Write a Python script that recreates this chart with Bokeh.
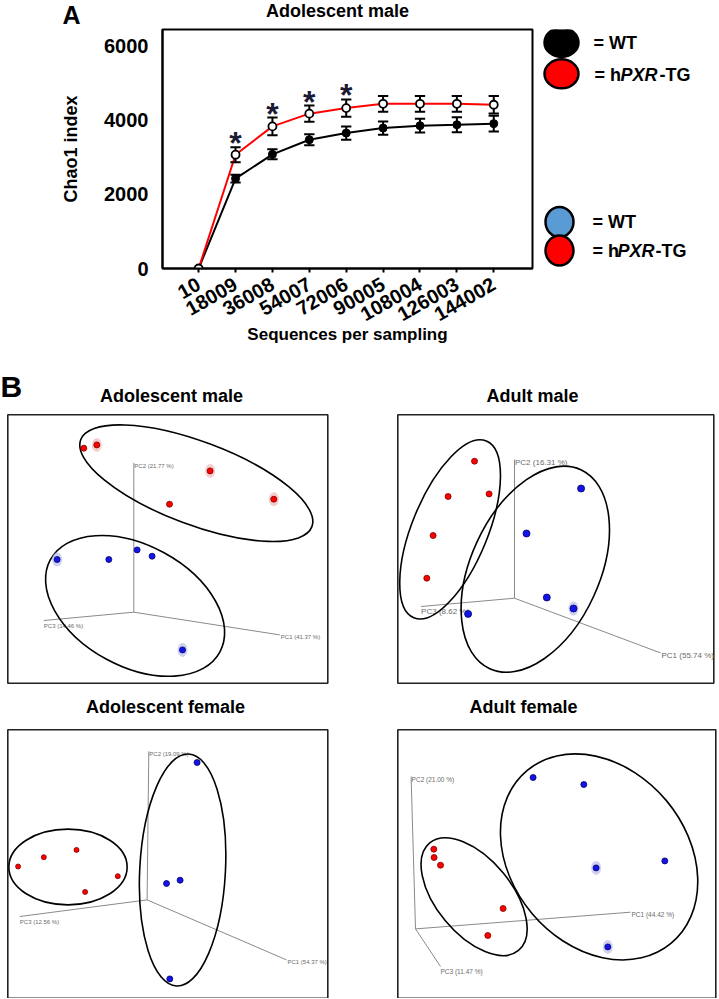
from bokeh.plotting import figure
from bokeh.layouts import column, row
from bokeh.models import Range1d, FixedTicker
from bokeh.embed import file_html
from bokeh.resources import INLINE
from bokeh.core.properties import value

FONT = "Liberation Sans"

# ---------------- Panel A data (Chao1 rarefaction) ----------------
seq_labels = ["10", "18009", "36008", "54007", "72006", "90005", "108004", "126003", "144002"]
wt_mean = [0, 2430, 3085, 3480, 3660, 3795, 3860, 3885, 3915]
wt_err = [0, 105, 135, 150, 180, 180, 185, 200, 210]
tg_mean = [0, 3075, 3840, 4185, 4335, 4450, 4450, 4450, 4425]
tg_err = [0, 205, 240, 220, 235, 215, 215, 215, 235]
tg_sig = [False, True, True, True, True, False, False, False, False]
y_ticks = [0, 2000, 4000, 6000]
panel_a_title = "Adolescent male"
legend_wt = "= WT"

# ---------------- Panel B data (PCoA, projected coordinates in box units) ----------------
p1_title = "Adolescent male"
p1_red_x = [76, 89, 202.3, 161.7, 266]
p1_red_y = [235, 238.3, 212.3, 179, 184]
p1_blue_x = [49.3, 101, 129.3, 144.3, 174.7]
p1_blue_y = [123.7, 123.7, 133.3, 127, 33.3]
p1_axis_names = ["PC1 (41.37 %)", "PC2 (21.77 %)", "PC3 (14.46 %)"]

p2_title = "Adult male"
p2_red_x = [76.7, 50.3, 91.3, 35.3, 29]
p2_red_y = [222, 186.7, 189.3, 147.7, 105]
p2_blue_x = [183.3, 128.7, 149, 175.7, 70.3]
p2_blue_y = [194.7, 149.7, 85.7, 74.7, 69.3]
p2_axis_names = ["PC1 (55.74 %)", "PC2 (16.31 %)", "PC3 (8.62 %)"]

p3_title = "Adolescent female"
p3_red_x = [10.3, 36, 68.7, 110, 77.3]
p3_red_y = [131.7, 141, 148.3, 122, 106.3]
p3_blue_x = [189.3, 158.7, 172.3, 162]
p3_blue_y = [235.7, 114.7, 118, 19.3]
p3_axis_names = ["PC1 (54.37 %)", "PC2 (19.09 %)", "PC3 (12.56 %)"]

p4_title = "Adult female"
p4_red_x = [36, 36.3, 42.7, 105.3, 90]
p4_red_y = [149, 140.7, 133, 89.7, 62.7]
p4_blue_x = [135.3, 186, 267, 198.3, 210]
p4_blue_y = [220.7, 213.7, 137.3, 130.3, 51.3]
p4_axis_names = ["PC1 (44.42 %)", "PC2 (21.00 %)", "PC3 (11.47 %)"]

# group ellipses: (center x, center y, width, height, angle deg) for red, blue groups
p1_ell = [(188.5, 200, 247, 83, -20.6), (127.3, 77.3, 193, 121, -28.6)]
p2_ell = [(52.3, 153.8, 191, 75.6, 67.7), (137.5, 114, 218.8, 128.7, 65.4)]
p3_ell = [(60.2, 131.2, 118.3, 75.7, 0), (174.8, 128.2, 85.7, 232.3, -3)]
p4_ell = [(76.3, 101.5, 139.4, 75.1, -50.45), (201.3, 141.3, 224.9, 175.5, -50.1)]

# projected 3D axes: origin, PC1 end, PC2 end, PC3 end
p1_axes = [(126, 71), (272, 48.3), (126, 220.3), (36, 62.7)]
p2_axes = [(116.7, 85), (262.7, 30.3), (116.7, 223.7), (23.3, 76.7)]
p3_axes = [(139.3, 98.3), (278.7, 38.3), (141, 247), (12, 81.7)]
p4_axes = [(17.7, 69.3), (232.7, 86), (13.3, 221.7), (42.7, 31.7)]

# points that carry a faint spread halo: (group, index)
p1_halo = [("r", 1), ("r", 2), ("r", 4), ("b", 0), ("b", 4)]
p2_halo = [("b", 3)]
p3_halo = []
p4_halo = [("b", 3), ("b", 4)]

RED = "#ff0000"
BLUE = "#1414e6"
HALO = {"r": "#f2b8b8", "b": "#b8bce8"}


def bare(width, height, xr, yr):
    p = figure(width=width, height=height, x_range=Range1d(*xr), y_range=Range1d(*yr),
               min_border=0, x_axis_location=None, y_axis_location=None,
               output_backend="svg", toolbar_location=None)
    p.grid.visible = False
    p.outline_line_color = None
    p.border_fill_color = "white"
    p.background_fill_color = "white"
    return p


# ================= Top strip: panel letter and title (page-pixel coords) =================
pS = bare(718, 28, (0, 718), (28, 0))
pS.text([62], [14], text=["A"], text_font=value(FONT), text_font_style="bold",
        text_font_size="25px", text_align="left", text_baseline="middle", text_color="black")
pS.text([337], [10.5], text=[panel_a_title], text_font=value(FONT), text_font_style="bold",
        text_font_size="18px", text_align="center", text_baseline="middle", text_color="black")

# ================= Panel A figure =================
xi = list(range(len(seq_labels)))
pA = figure(width=540, height=334, x_range=Range1d(-0.98, 9.05), y_range=Range1d(0, 6459),
            min_border_left=162, min_border_right=8, min_border_top=1, min_border_bottom=94,
            output_backend="svg", toolbar_location=None)
pA.grid.visible = False
pA.outline_line_color = "black"
pA.outline_line_width = 2
pA.background_fill_color = "white"
pA.border_fill_color = "white"

pA.xaxis.ticker = FixedTicker(ticks=xi)
pA.xaxis.major_label_overrides = {i: s for i, s in enumerate(seq_labels)}
pA.xaxis.major_label_orientation = 0.52
pA.xaxis.axis_label = "Sequences per sampling"
pA.yaxis.ticker = FixedTicker(ticks=y_ticks)
pA.yaxis.axis_label = "Chao1 index"
for ax in (pA.xaxis[0], pA.yaxis[0]):
    ax.axis_line_width = 2
    ax.axis_line_color = "black"
    ax.minor_tick_line_color = None
    ax.major_label_text_font = FONT
    ax.major_label_text_font_style = "bold"
    ax.major_label_text_font_size = "20px"
    ax.major_label_text_color = "black"
    ax.axis_label_text_font = FONT
    ax.axis_label_text_font_style = "bold"
    ax.axis_label_text_font_size = "18px"
    ax.axis_label_text_color = "black"
pA.xaxis.major_tick_out = 4
pA.xaxis.major_tick_in = 0
pA.xaxis.major_tick_line_width = 2
pA.xaxis.major_label_standoff = 10
pA.xaxis.axis_label_standoff = -6
pA.xaxis.axis_label_text_font_size = "17px"
pA.yaxis.major_tick_out = 0
pA.yaxis.major_tick_in = 0
pA.yaxis.major_label_standoff = 14
pA.yaxis.axis_label_standoff = 20

pA.line(xi, wt_mean, line_color="black", line_width=2)
pA.line(xi, tg_mean, line_color=RED, line_width=2)
cap = 0.14
for mean, err in ((wt_mean, wt_err), (tg_mean, tg_err)):
    idx = [i for i in xi if err[i] > 0]
    lo = [mean[i] - err[i] for i in idx]
    hi = [mean[i] + err[i] for i in idx]
    xs = [xi[i] for i in idx]
    pA.segment(xs, lo, xs, hi, line_color="black", line_width=2)
    pA.segment([x - cap for x in xs], hi, [x + cap for x in xs], hi, line_color="black", line_width=2)
    pA.segment([x - cap for x in xs], lo, [x + cap for x in xs], lo, line_color="black", line_width=2)
pA.scatter(xi, wt_mean, size=8, fill_color="black", line_color="black")
pA.scatter(xi, tg_mean, size=8, fill_color="white", line_color="black", line_width=1.8)
sx = [i for i in xi if tg_sig[i]]
sy = [tg_mean[i] + tg_err[i] for i in sx]
pA.text(sx, sy, text=["*"] * len(sx), text_font=value(FONT), text_font_size="32px",
        text_font_style="bold", text_align="center", text_baseline="middle", y_offset=-4,
        text_color="#1a1a33")

# ================= Legend figure (page-pixel coordinates) =================
pL = bare(178, 334, (540, 718), (362, 28))
pL.ellipse(x=[561, 561], y=[46, 90], width=34, height=29, width_units="screen", height_units="screen",
           fill_color=["black", RED], line_color="black", line_width=2.5)
pL.ellipse(x=[559, 559], y=[297, 337], width=28, height=30, width_units="screen", height_units="screen",
           fill_color=["#5b9bd5", RED], line_color="black", line_width=2.5)
tkw = dict(text_font=value(FONT), text_font_size="18px", text_align="left",
           text_baseline="middle", text_color="black")
pL.text([593, 592], [47, 297], text=[legend_wt] * 2, text_font_style="bold", **tkw)
pL.text([594, 592], [91, 337], text=["= h"] * 2, text_font_style="bold", **tkw)
pL.text([620, 617], [91, 337], text=["PXR"] * 2, text_font_style="bold italic", **tkw)
pL.text([659, 655], [91, 337], text=["-TG"] * 2, text_font_style="bold", **tkw)


# ================= PCoA figures =================
def pcoa(title, rx, ry, bx, by, ells, axes, names, halos, W, H, fig_box, box_page, title_xy,
         name_size, red_size, blue_size, letter_xy=None):
    fx0, fy0, fx1, fy1 = fig_box        # figure extent on the page
    L, T = box_page                     # top-left corner of the box on the page
    B = T + H
    p = bare(fx1 - fx0, fy1 - fy0, (fx0 - L, fx1 - L), (B - fy1, B - fy0))
    p.quad(left=[0], right=[W], bottom=[0], top=[H], fill_color=None,
           line_color="#222222", line_width=1.6)
    o = axes[0]
    ends = axes[1:]
    p.segment([o[0]] * 3, [o[1]] * 3, [a[0] for a in ends], [a[1] for a in ends],
              line_color="#8a8a8a", line_width=1)
    offs = [(1, -2.5), (0.5, -3), (0, -5)]
    p.text([e[0] + d[0] for e, d in zip(ends, offs)], [e[1] + d[1] for e, d in zip(ends, offs)],
           text=names, text_font=value(FONT), text_font_size=name_size, text_color="#6a6a6a",
           text_align="left", text_baseline="middle")
    for (cx, cy, w, h, ang) in ells:
        p.ellipse([cx], [cy], width=w, height=h, angle=ang, angle_units="deg",
                  fill_color=None, line_color="black", line_width=1.6)
    pts = {"r": (rx, ry), "b": (bx, by)}
    if halos:
        hx = [pts[g][0][i] for g, i in halos]
        hy = [pts[g][1][i] for g, i in halos]
        hc = [HALO[g] for g, i in halos]
        p.ellipse(hx, hy, width=10, height=14, width_units="screen", height_units="screen",
                  fill_color=hc, fill_alpha=0.7, line_color=None)
    p.scatter(rx, ry, size=red_size, fill_color=RED, line_color="#7a0000", line_width=0.8)
    p.scatter(bx, by, size=blue_size, fill_color=BLUE, line_color="#000070", line_width=0.8)
    p.text([title_xy[0] - L], [B - title_xy[1]], text=[title], text_font=value(FONT),
           text_font_style="bold", text_font_size="18px", text_align="center",
           text_baseline="middle", text_color="black")
    if letter_xy:
        p.text([letter_xy[0] - L], [B - letter_xy[1]], text=["B"], text_font=value(FONT),
               text_font_style="bold", text_font_size="30px", text_align="left",
               text_baseline="middle", text_color="black")
    return p


q1 = pcoa(p1_title, p1_red_x, p1_red_y, p1_blue_x, p1_blue_y, p1_ell, p1_axes, p1_axis_names, p1_halo,
          320, 268.4, (0, 362, 360, 688), (7.3, 414.3), (171, 395), "6px", 6, 6, letter_xy=(0, 386))
q2 = pcoa(p2_title, p2_red_x, p2_red_y, p2_blue_x, p2_blue_y, p2_ell, p2_axes, p2_axis_names, p2_halo,
          316, 268.4, (360, 362, 718, 688), (397.3, 414.3), (532, 395), "8px", 6, 7)
q3 = pcoa(p3_title, p3_red_x, p3_red_y, p3_blue_x, p3_blue_y, p3_ell, p3_axes, p3_axis_names, p3_halo,
          320, 268.4, (0, 688, 360, 998), (7.3, 729.3), (165, 706), "6px", 5, 6)
q4 = pcoa(p4_title, p4_red_x, p4_red_y, p4_blue_x, p4_blue_y, p4_ell, p4_axes, p4_axis_names, p4_halo,
          318, 268.4, (360, 688, 718, 998), (397.3, 729.3), (523, 706), "6.5px", 6, 6)

layout = column(pS, row(pA, pL), row(q1, q2), row(q3, q4))
open("out.html", "w").write(file_html(layout, INLINE))
